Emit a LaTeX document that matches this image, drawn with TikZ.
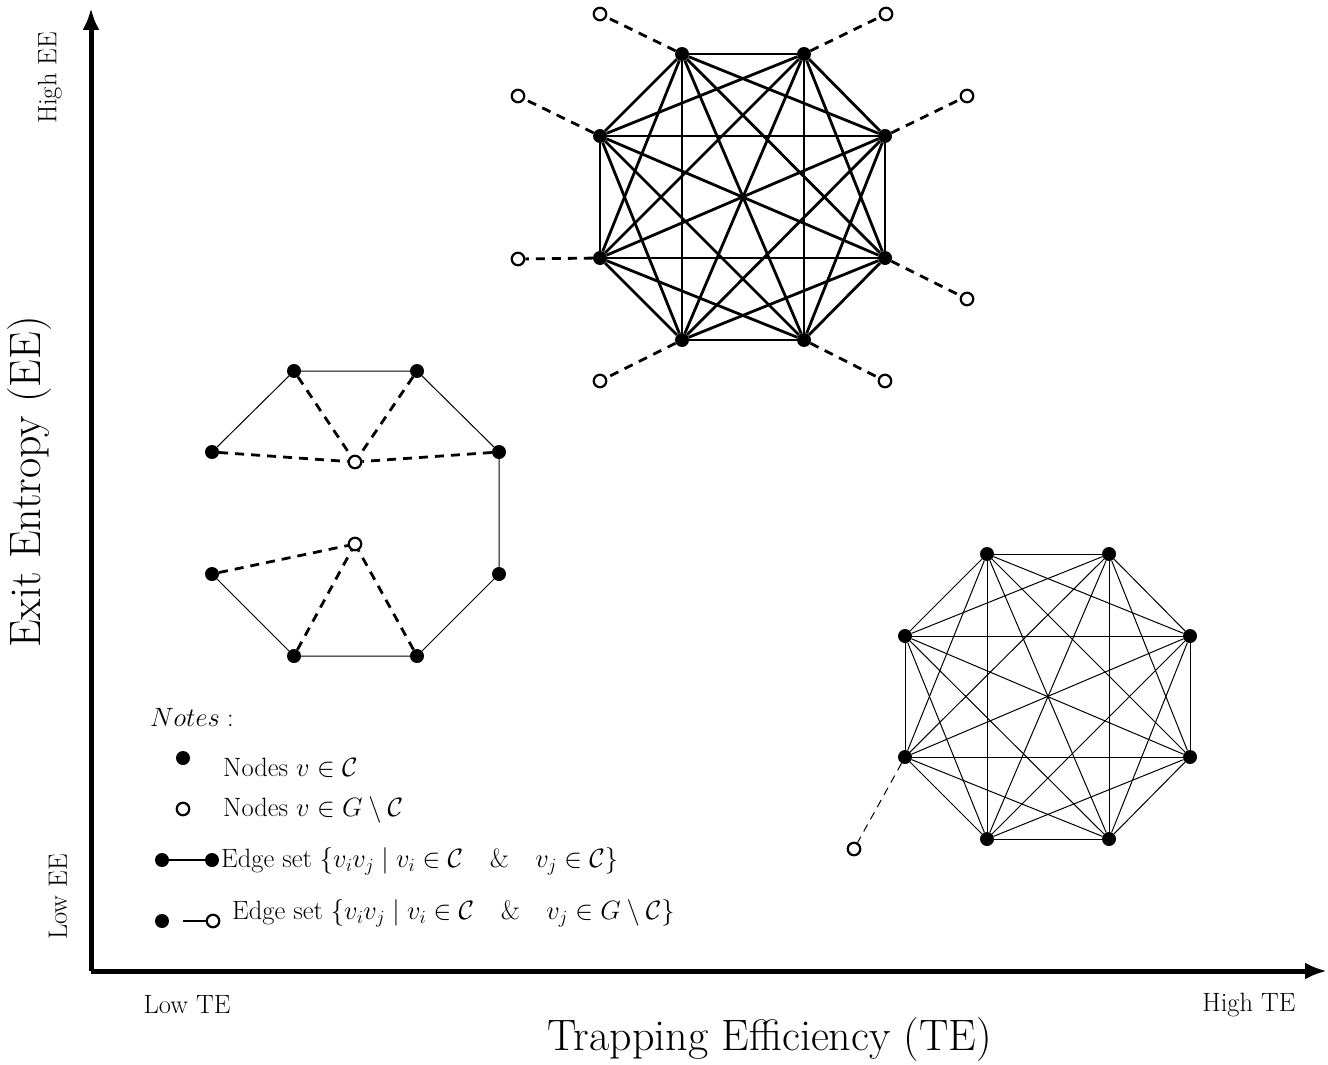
\RequirePackage{fix-cm}
\documentclass[tikz,border=0pt]{standalone}
\usetikzlibrary{arrows.meta}
\begin{document}
\begin{tikzpicture}[x=1pt,y=-1pt,
  fdot/.style={circle,fill=black,inner sep=0pt,minimum size=14pt},
  odot/.style={circle,draw=black,line width=2.2pt,inner sep=0pt,minimum size=12.5pt,fill=white},
  thickedge/.style={line width=2.8pt},
  thinedge/.style={line width=1pt},
  thickdash/.style={line width=2.8pt,dash pattern=on 9pt off 7pt},
  thindash/.style={line width=1pt,dash pattern=on 8pt off 6pt},
  axis/.style={line width=5pt,-{Latex[length=22pt,width=17pt]}},
  lbl/.style={font=\fontsize{26.5}{30}\selectfont,inner sep=0pt},
  biglbl/.style={font=\fontsize{44}{50}\selectfont,inner sep=0pt}]
\useasboundingbox (0,0) rectangle (1328,1065);
% axes
\coordinate (O) at (91,971);
\coordinate (Ytop) at (91,8);
\coordinate (Xend) at (1327,971);
\draw[axis] (O) -- (Ytop);
\draw[axis] (O) -- (Xend);
\node[lbl,rotate=90] (hee) at (50,78) {High EE};
\node[lbl,rotate=90] (lee) at (58,897) {Low EE};
\node[lbl] (lte) at (187,1005) {Low TE};
\node[lbl] (hte) at (1249,1005) {High TE};
\node[biglbl,rotate=90] (ee) at (30,482) {Exit Entropy (EE)};
\node[biglbl] (te) at (770,1040) {Trapping Efficiency (TE)};
% top graph
\foreach \n/\x/\y in {1/682/54,2/804/54,3/885/136,4/885/258,5/804/340,6/682/340,7/600/258,8/600/136}
  \node[fdot] (t\n) at (\x,\y) {};
\foreach \i in {1,...,7}{
  \pgfmathtruncatemacro\k{\i+1}
  \foreach \j in {\k,...,8} \draw[thickedge] (t\i) -- (t\j);
}
\foreach \n/\x/\y/\m in {1/600/14/1,2/886/14/2,3/967/96/3,4/967/299/4,5/885/381/5,6/600/381/6,7/518/259/7,8/518/96/8}{
  \node[odot] (p\n) at (\x,\y) {};
  \draw[thickdash] (t\m) -- (p\n);
}
% bottom right graph
\foreach \n/\x/\y in {1/987/554,2/1109/554,3/1190/636,4/1190/757,5/1109/839,6/987/839,7/905/757,8/905/636}
  \node[fdot] (b\n) at (\x,\y) {};
\foreach \i in {1,...,7}{
  \pgfmathtruncatemacro\k{\i+1}
  \foreach \j in {\k,...,8} \draw[thinedge] (b\i) -- (b\j);
}
\node[odot] (bp) at (854,849) {};
\draw[thindash] (b7) -- (bp);
% left graph
\foreach \n/\x/\y in {1/294/371,2/417/371,3/499/452,4/499/574,5/417/656,6/294/656,7/212/574,8/212/452}
  \node[fdot] (l\n) at (\x,\y) {};
\draw[thinedge] (l8) -- (l1) -- (l2) -- (l3) -- (l4) -- (l5) -- (l6) -- (l7);
\node[odot] (u) at (355,462) {};
\node[odot] (d) at (355,544) {};
\foreach \m in {8,1,2,3} \draw[thickdash] (l\m) -- (u);
\foreach \m in {7,6,5} \draw[thickdash] (l\m) -- (d);
% legend
\node[lbl,anchor=west] (notes) at (150,717) {$Notes:$};
\node[fdot] (g1) at (183,758) {};
\node[lbl,anchor=west] (g1t) at (223,768) {Nodes $v\in\mathcal{C}$};
\node[odot] (g2) at (183,809) {};
\node[lbl,anchor=west] (g2t) at (223,810) {Nodes $v\in G\setminus\mathcal{C}$};
\node[fdot] (g3a) at (162,860) {};
\node[fdot] (g3b) at (212,860) {};
\draw[line width=2.5pt] (g3a) -- (g3b);
\node[lbl,anchor=west] (g3t) at (221,861) {Edge set $\{v_iv_j \mid v_i\in\mathcal{C}\quad\&\quad v_j\in\mathcal{C}\}$};
\node[fdot] (g4a) at (162,921) {};
\coordinate (g4s) at (183,921);
\node[odot] (g4b) at (213,921) {};
\draw[line width=1.3pt] (g4s) -- (g4b);
\node[lbl,anchor=west] (g4t) at (232,913) {Edge set $\{v_iv_j \mid v_i\in\mathcal{C}\quad\&\quad v_j\in G\setminus\mathcal{C}\}$};
\end{tikzpicture}
\end{document}
